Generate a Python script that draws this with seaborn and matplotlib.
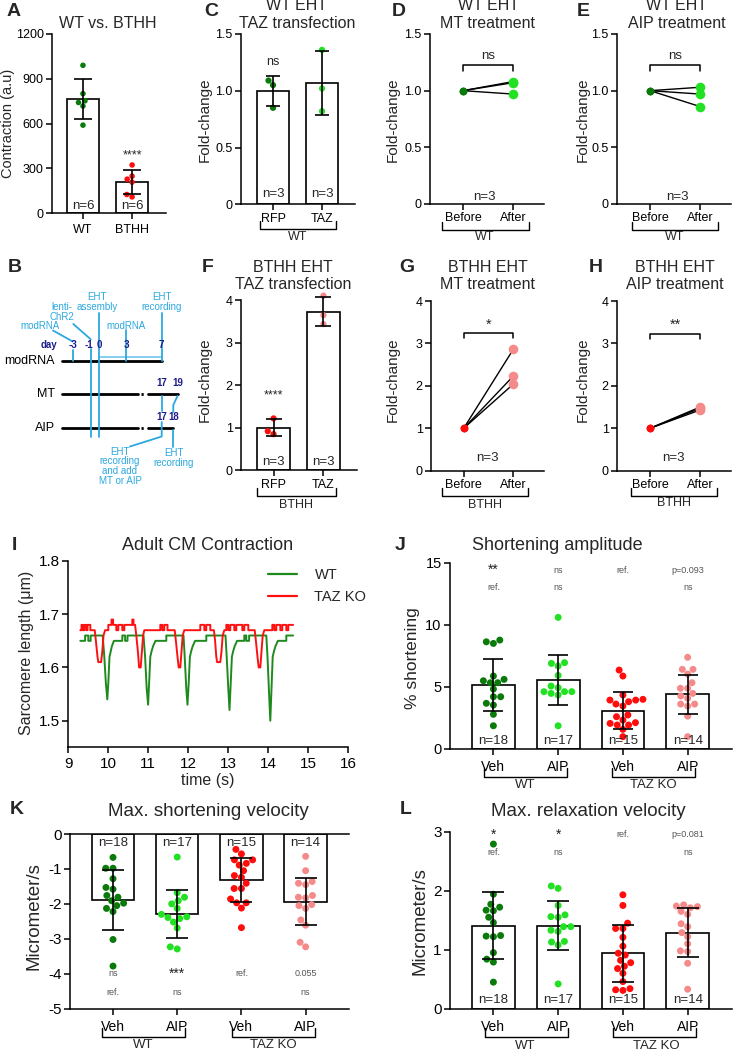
import numpy as np
import pandas as pd
import matplotlib
matplotlib.use('Agg')
import matplotlib.pyplot as plt
from matplotlib.lines import Line2D
import seaborn as sns

# ---------------- data ----------------
# Panel A
a_groups = ['WT', 'BTHH']
a_wt = [990, 800, 752, 741, 717, 589]
a_bthh = [322, 247, 227, 207, 124, 108]
a_mean = [765, 207]
a_sd = [133, 82]

# Panel C
c_groups = ['RFP', 'TAZ']
c_rfp = [1.09, 1.05, 0.85]
c_taz = [1.36, 1.02, 0.82]
c_mean = [1.00, 1.07]
c_sd = [0.13, 0.28]

# Panel F
f_groups = ['RFP', 'TAZ']
f_rfp = [1.22, 0.92, 0.85]
f_taz = [4.11, 3.65, 3.44]
f_mean = [1.00, 3.73]
f_sd = [0.20, 0.34]

# Paired panels D, E, G, H
pair_labels = ['Before', 'After']
d_before = [1.0, 1.0, 1.0]
d_after = [1.08, 1.07, 0.97]
e_before = [1.0, 1.0, 1.0]
e_after = [1.03, 0.97, 0.86]
g_before = [1.0, 1.0, 1.0]
g_after = [2.86, 2.23, 2.04]
h_before = [1.0, 1.0, 1.0]
h_after = [1.50, 1.47, 1.43]

# Panel I traces (time s, sarcomere length um)
wt_t = [9.30, 9.42, 9.42, 9.50, 9.50, 9.56, 9.56, 9.86, 9.90, 9.94, 9.975, 10.00, 10.03, 10.06, 10.09,
        10.14, 10.35, 10.35, 10.42, 10.42, 10.48, 10.48, 10.88, 10.92, 10.96, 10.995, 11.02, 11.05,
        11.08, 11.12, 11.18, 11.45, 11.45, 11.88, 11.91, 11.95, 11.98, 12.01, 12.04, 12.07, 12.11,
        12.17, 12.45, 12.45, 12.93, 12.96, 13.00, 13.03, 13.06, 13.09, 13.12, 13.16, 13.22, 13.40,
        13.40, 13.45, 13.45, 13.52, 13.52, 13.95, 13.98, 14.02, 14.05, 14.08, 14.11, 14.14, 14.18,
        14.24, 14.45, 14.45, 14.62]
wt_v = [1.65, 1.65, 1.66, 1.66, 1.65, 1.65, 1.66, 1.66, 1.62, 1.57, 1.54, 1.57, 1.62, 1.63, 1.64,
        1.65, 1.65, 1.66, 1.66, 1.65, 1.65, 1.66, 1.66, 1.62, 1.56, 1.53, 1.57, 1.62,
        1.63, 1.64, 1.65, 1.65, 1.66, 1.66, 1.62, 1.56, 1.53, 1.57, 1.62, 1.63, 1.64,
        1.65, 1.65, 1.66, 1.66, 1.62, 1.56, 1.52, 1.57, 1.62, 1.63, 1.64, 1.65, 1.65,
        1.66, 1.66, 1.65, 1.65, 1.66, 1.66, 1.62, 1.55, 1.50, 1.56, 1.62, 1.63, 1.64,
        1.65, 1.65, 1.66, 1.66]
taz_t = [9.30, 9.33, 9.33, 9.36, 9.36, 9.40, 9.40, 9.45, 9.45, 9.48, 9.48, 9.55, 9.55, 9.66, 9.69,
         9.73, 9.75, 9.82, 9.85, 9.88, 9.92, 10.00, 10.00, 10.08, 10.08, 10.12, 10.12, 10.20, 10.20,
         10.25, 10.25, 10.35, 10.35, 10.40, 10.40, 10.60, 10.60, 10.63, 10.63, 10.67, 10.70, 10.74,
         10.77, 10.81, 10.84, 10.87, 10.90, 11.30, 11.30, 11.35, 11.35, 11.40, 11.40, 11.48, 11.48,
         11.66, 11.69, 11.73, 11.76, 11.80, 11.83, 11.86, 11.90, 12.30, 12.30, 12.40, 12.40, 12.45,
         12.45, 12.55, 12.55, 12.64, 12.67, 12.70, 12.72, 12.80, 12.83, 12.86, 12.90, 12.95, 12.95,
         13.00, 13.00, 13.05, 13.05, 13.15, 13.15, 13.20, 13.20, 13.35, 13.35, 13.40, 13.40, 13.50,
         13.50, 13.66, 13.69, 13.73, 13.76, 13.80, 13.83, 13.86, 13.90, 14.10, 14.10, 14.15, 14.15,
         14.20, 14.20, 14.30, 14.30, 14.35, 14.35, 14.45, 14.45, 14.50, 14.50, 14.62]
taz_v = [1.67, 1.67, 1.68, 1.68, 1.67, 1.67, 1.68, 1.68, 1.67, 1.67, 1.68, 1.68, 1.67, 1.67, 1.65,
         1.62, 1.61, 1.61, 1.63, 1.66, 1.67, 1.67, 1.68, 1.68, 1.69, 1.69, 1.68, 1.68, 1.67,
         1.67, 1.68, 1.68, 1.67, 1.67, 1.68, 1.68, 1.69, 1.69, 1.68, 1.68, 1.66, 1.63,
         1.60, 1.60, 1.63, 1.66, 1.67, 1.67, 1.68, 1.68, 1.67, 1.67, 1.68, 1.68, 1.67,
         1.67, 1.65, 1.62, 1.60, 1.60, 1.63, 1.66, 1.67, 1.67, 1.68, 1.68, 1.67, 1.67,
         1.68, 1.68, 1.67, 1.67, 1.65, 1.62, 1.61, 1.61, 1.63, 1.66, 1.67, 1.67, 1.68,
         1.68, 1.67, 1.67, 1.68, 1.68, 1.67, 1.67, 1.68, 1.68, 1.67, 1.67, 1.68, 1.68,
         1.67, 1.67, 1.65, 1.62, 1.60, 1.60, 1.63, 1.66, 1.67, 1.67, 1.68, 1.68, 1.67,
         1.67, 1.68, 1.68, 1.67, 1.67, 1.68, 1.68, 1.67, 1.67, 1.68, 1.68]

# Panels J, K, L
jkl_groups = ['WT Veh', 'WT AIP', 'TAZ KO Veh', 'TAZ KO AIP']
jkl_ticklabels = ['Veh', 'AIP', 'Veh', 'AIP']
jkl_n = ['n=18', 'n=17', 'n=15', 'n=14']

j_wt_veh = [8.76, 8.62, 8.49, 5.86, 5.59, 5.48, 5.32, 5.32, 4.81, 4.19, 4.19, 3.66, 3.52, 2.77, 1.85]
j_wt_aip = [10.59, 6.94, 6.88, 6.67, 5.91, 5.05, 4.92, 4.60, 4.60, 4.60, 4.46, 4.33, 1.85]
j_taz_veh = [6.34, 5.86, 4.33, 3.98, 3.92, 3.92, 3.79, 3.60, 3.44, 2.72, 2.58, 2.31, 2.10, 2.04,
             1.91, 1.91, 1.56, 0.97]
j_taz_aip = [7.37, 6.40, 6.40, 6.02, 5.32, 4.87, 4.87, 4.46, 4.25, 4.06, 3.60, 3.60, 3.44, 2.63, 0.97]
j_mean = [5.13, 5.54, 3.06, 4.38]
j_sd = [2.10, 2.00, 1.48, 1.56]
j_row1 = ['**', 'ns', 'ref.', 'p=0.093']
j_row2 = ['ref.', 'ns', '', 'ns']

k_wt_veh = [-0.67, -0.98, -0.98, -1.28, -1.53, -1.58, -1.76, -1.81, -1.91, -1.98, -2.05, -2.13,
            -2.22, -3.02, -3.78]
k_wt_aip = [-0.66, -1.68, -1.81, -1.91, -2.00, -2.13, -2.30, -2.37, -2.39, -2.42, -2.52, -2.69,
            -3.23, -3.29]
k_taz_veh = [-0.44, -0.57, -0.74, -0.74, -0.84, -0.89, -1.05, -1.19, -1.24, -1.41, -1.56, -1.56,
             -1.86, -1.97, -1.97, -2.12, -2.68]
k_taz_aip = [-0.64, -1.05, -1.36, -1.41, -1.45, -1.76, -1.81, -1.83, -2.02, -2.05, -2.13, -2.46,
             -2.61, -3.10, -3.23]
k_mean = [-1.89, -2.29, -1.32, -1.94]
k_sd = [0.86, 0.70, 0.62, 0.67]
k_row1 = ['ns', '***', 'ref.', '0.055']
k_row2 = ['ref.', 'ns', '', 'ns']

l_wt_veh = [2.79, 1.94, 1.77, 1.72, 1.67, 1.66, 1.55, 1.46, 1.24, 1.23, 1.22, 0.95, 0.84, 0.79, 0.45]
l_wt_aip = [2.08, 2.04, 1.75, 1.59, 1.56, 1.55, 1.39, 1.39, 1.33, 1.31, 1.14, 1.13, 1.08, 0.42]
l_taz_veh = [1.93, 1.75, 1.45, 1.36, 1.36, 1.21, 1.06, 0.94, 0.91, 0.82, 0.78, 0.72, 0.68, 0.60,
             0.46, 0.34, 0.32, 0.31]
l_taz_aip = [1.76, 1.74, 1.73, 1.71, 1.65, 1.60, 1.44, 1.39, 1.29, 1.22, 1.10, 0.98, 0.97, 0.77, 0.33]
l_mean = [1.41, 1.41, 0.94, 1.29]
l_sd = [0.57, 0.42, 0.48, 0.41]
l_row1 = ['*', '*', 'ref.', 'p=0.081']
l_row2 = ['ref.', 'ns', '', 'ns']

# ---------------- style ----------------
DKGREEN = '#0a7a0a'
LTGREEN = '#22e022'
RED = '#ff0d0d'
PINK = '#f58a8a'
BLUE = '#2aa8e0'
NAVY = '#1c1c8c'
jkl_colors = [DKGREEN, LTGREEN, RED, PINK]

sns.set_style('ticks')
plt.rcParams['font.family'] = ['Liberation Sans', 'DejaVu Sans']
plt.rcParams['axes.edgecolor'] = 'black'
plt.rcParams['axes.unicode_minus'] = False

W, H = 733, 1050
fig = plt.figure(figsize=(W / 100, H / 100), dpi=100)


def fx(x):
    return x / W


def fy(y):
    return 1 - y / H


def add_ax(l, t, r, b):
    return fig.add_axes([l / W, 1 - b / H, (r - l) / W, (b - t) / H])


def ftext(x, y, s, size=9, ha='center', va='center', **kw):
    fig.text(fx(x), fy(y), s, fontsize=size, ha=ha, va=va, **kw)


def fline(xs, ys, color='black', lw=1.0):
    fig.add_artist(Line2D([fx(x) for x in xs], [fy(y) for y in ys], color=color, lw=lw))


def bracket(x0, x1, ytop, ybot, lw=1.0):
    fline([x0, x0, x1, x1], [ytop, ybot, ybot, ytop], lw=lw)


def style(ax, lw=1.1, tick_size=9, ticklen=4):
    sns.despine(ax=ax)
    for s in ax.spines.values():
        s.set_linewidth(lw)
    ax.tick_params(width=lw, length=ticklen, labelsize=tick_size, color='black', labelcolor='black',
                   pad=2)
    ax.set_xlabel('')
    ax.set_ylabel('')


def bar_swarm(ax, groups, point_lists, means, sds, colors, size, capsize, bar_w, lw=1.2):
    df = pd.DataFrame({'group': np.repeat(groups, [len(p) for p in point_lists]),
                       'val': np.concatenate(point_lists)})
    sns.barplot(x=groups, y=means, order=groups, color='white', edgecolor='black', linewidth=lw,
                width=bar_w, saturation=1, errorbar=None, ax=ax, zorder=1)
    sns.swarmplot(data=df, x='group', y='val', order=groups, hue='group', hue_order=groups,
                  palette=dict(zip(groups, colors)), size=size, legend=False, ax=ax, zorder=3,
                  linewidth=0, clip_on=False)
    ax.errorbar(range(len(groups)), means, yerr=sds, fmt='none', ecolor='black', elinewidth=lw,
                capsize=capsize, capthick=lw, zorder=5, clip_on=False)


def paired(ax, before, after, cb, ca):
    rep = list(range(len(before)))
    df = pd.DataFrame({'x': [0] * len(before) + [1] * len(after), 'v': before + after,
                       'rep': rep + rep})
    sns.lineplot(data=df, x='x', y='v', units='rep', estimator=None, color='black', lw=1.0,
                 ax=ax, zorder=2)
    sns.scatterplot(x=[0] * len(before), y=before, color=cb, s=30, linewidth=0, ax=ax, zorder=3)
    sns.scatterplot(x=[1] * len(after), y=after, color=ca, s=48, linewidth=0, ax=ax, zorder=3)


# ---------------- panel letters ----------------
for letter, (x, y) in {'A': (14, 11), 'C': (211, 11), 'D': (399, 11), 'E': (583, 11),
                       'B': (15, 268), 'F': (208, 268), 'G': (407, 268), 'H': (596, 268),
                       'I': (14, 545), 'J': (400, 545), 'K': (17, 810), 'L': (406, 810)}.items():
    ftext(x, y, letter, size=14, weight='bold')

# ---------------- Panel A ----------------
ax = add_ax(52, 34, 166, 213)
bar_swarm(ax, a_groups, [a_wt, a_bthh], a_mean, a_sd, [DKGREEN, RED], 4.0, 6.5, 0.65)
style(ax)
ax.tick_params(axis='x', pad=4)
ax.set_ylim(0, 1200)
ax.set_yticks([0, 300, 600, 900, 1200])
ax.set_xlim(-0.63, 1.69)
ax.text(1, 383, '****', ha='center', va='center', fontsize=9)
for i in range(2):
    ax.text(i, 45, 'n=6', ha='center', va='center', fontsize=9.5)
ftext(108, 23, 'WT vs. BTHH', size=11.5)
ftext(8, 123, 'Contraction (a.u)', size=10.5, rotation=90)


# ---------------- Panel C & F ----------------
def fold_bar(top, bottom, left, right, pts, means, sds, colors, ylim, yticks, ylabels, sig, sig_y,
             sig_x, n_y, capsize):
    ax = add_ax(left, top, right, bottom)
    bar_swarm(ax, c_groups, pts, means, sds, colors, 4.5, capsize, 0.655)
    style(ax)
    ax.set_ylim(*ylim)
    ax.set_yticks(yticks)
    ax.set_yticklabels(ylabels)
    ax.set_xlim(-0.653, 1.673)
    ax.text(sig_x, sig_y, sig, ha='center', va='center', fontsize=9)
    for i in range(2):
        ax.text(i, n_y, 'n=3', ha='center', va='center', fontsize=9.5)
    return ax


fold_bar(34, 204.3, 241, 355, [c_rfp, c_taz], c_mean, c_sd, [DKGREEN, LTGREEN], (0, 1.5),
         [0, 0.5, 1.0, 1.5], ['0', '0.5', '1.0', '1.5'], 'ns', 1.25, 0, 0.09, 5)
ftext(297, 5.5, 'WT EHT', size=11.5)
ftext(297, 23, 'TAZ transfection', size=11.5)
ftext(205, 120, 'Fold-change', size=11, rotation=90)
bracket(260, 336, 221, 229)
ftext(298, 237.5, 'WT', size=9)

fold_bar(300.3, 470.3, 241, 357, [f_rfp, f_taz], f_mean, f_sd, [RED, PINK], (0, 4),
         [0, 1, 2, 3, 4], ['0', '1', '2', '3', '4'], '****', 1.75, 0, 0.19, 6)
ftext(293, 268, 'BTHH EHT', size=11.5)
ftext(293, 285, 'TAZ transfection', size=11.5)
ftext(205, 380, 'Fold-change', size=11, rotation=90)
bracket(257, 336, 488, 496)
ftext(296, 505, 'BTHH', size=9)


# ---------------- paired panels ----------------
def paired_panel(left, top, right, bottom, before, after, cb, ca, ylim, yticks, ylabels,
                 br_lo, br_hi, sig, sig_y, n_x, n_y):
    ax = add_ax(left, top, right, bottom)
    paired(ax, before, after, cb, ca)
    style(ax)
    ax.set_ylim(*ylim)
    ax.set_yticks(yticks)
    ax.set_yticklabels(ylabels)
    ax.set_xlim(-0.66, 1.62)
    ax.set_xticks([0, 1])
    ax.set_xticklabels(pair_labels)
    ax.plot([0, 0, 1, 1], [br_lo, br_hi, br_hi, br_lo], color='black', lw=1.1)
    ax.text(0.5, sig_y, sig, ha='center', va='center', fontsize=9.5 if sig == 'ns' else 10.5)
    ax.text(n_x, n_y, 'n=3', ha='center', va='center', fontsize=9.5)
    return ax


paired_panel(430, 34, 544, 204, d_before, d_after, DKGREEN, LTGREEN, (0, 1.5),
             [0, 0.5, 1.0, 1.5], ['0', '0.5', '1.0', '1.5'], 1.17, 1.225, 'ns', 1.31, 0.42, 0.064)
ftext(488, 5.5, 'WT EHT', size=11.5)
ftext(488, 23, 'MT treatment', size=11.5)
ftext(393, 120, 'Fold-change', size=11, rotation=90)
bracket(442, 529, 222, 230)
ftext(485, 237.5, 'WT', size=9)

paired_panel(617, 34, 731, 204, e_before, e_after, DKGREEN, LTGREEN, (0, 1.5),
             [0, 0.5, 1.0, 1.5], ['0', '0.5', '1.0', '1.5'], 1.17, 1.225, 'ns', 1.31, 0.55, 0.064)
ftext(677, 5.5, 'WT EHT', size=11.5)
ftext(677, 23, 'AIP treatment', size=11.5)
ftext(583, 120, 'Fold-change', size=11, rotation=90)
bracket(632, 718, 222, 230)
ftext(675, 237.5, 'WT', size=9)

paired_panel(431, 301, 544, 470.7, g_before, g_after, RED, PINK, (0, 4),
             [0, 1, 2, 3, 4], ['0', '1', '2', '3', '4'], 3.12, 3.25, '*', 3.45, 0.47, 0.29)
ftext(488, 268, 'BTHH EHT', size=11.5)
ftext(488, 285, 'MT treatment', size=11.5)
ftext(393, 380, 'Fold-change', size=11, rotation=90)
bracket(442, 528, 488, 496)
ftext(485, 505, 'BTHH', size=9)

paired_panel(617, 301, 731, 470.7, h_before, h_after, RED, PINK, (0, 4),
             [0, 1, 2, 3, 4], ['0', '1', '2', '3', '4'], 3.1, 3.22, '**', 3.45, 0.46, 0.29)
ftext(675, 268, 'BTHH EHT', size=11.5)
ftext(675, 285, 'AIP treatment', size=11.5)
ftext(583, 380, 'Fold-change', size=11, rotation=90)
bracket(631, 717, 488, 496)
ftext(674, 503, 'BTHH', size=9)

# ---------------- Panel B (timeline diagram) ----------------
axb = fig.add_axes([0, fy(490), 185 / W, 205 / H])
axb.set_xlim(0, 185)
axb.set_ylim(490, 285)
axb.axis('off')
blw = 1.3
# black rows
axb.plot([62, 162], [361, 361], color='black', lw=2.0)
for yy, xe in [(394, 178), (428, 173)]:
    axb.plot([62, 138], [yy, yy], color='black', lw=2.0)
    axb.plot([141, 144], [yy, yy], color='black', lw=2.0, ls=(0, (0.8, 0.8)))
    axb.plot([148, xe], [yy, yy], color='black', lw=2.0)
# blue lines
axb.plot([90.7, 90.7], [349, 436.5], color=BLUE, lw=blw)
axb.plot([99, 99], [313, 436.5], color=BLUE, lw=blw)
axb.plot([72.7, 72.7], [350, 361], color=BLUE, lw=blw)
axb.plot([126, 126], [330, 361], color=BLUE, lw=blw)
axb.plot([161.7, 161.7], [313, 361], color=BLUE, lw=blw)
axb.plot([99, 161.7], [356.5, 356.5], color=BLUE, lw=blw, alpha=0.6)
axb.plot([53, 72.7], [330.5, 341.5], color=BLUE, lw=blw)
axb.plot([73.3, 90.7], [324, 339.3], color=BLUE, lw=blw)
axb.plot([161.7, 161.7], [396, 411], color=BLUE, lw=blw)
axb.plot([161.7, 161.7, 130], [422, 436.5, 446.5], color=BLUE, lw=blw)
axb.plot([177.5, 173.3, 173.3], [396, 405, 412], color=BLUE, lw=blw)
axb.plot([173.3, 173.3], [430, 446.5], color=BLUE, lw=blw)
# blue texts
bt = dict(color=BLUE, fontsize=7, ha='center', va='center')
axb.text(97, 296.5, 'EHT', **bt)
axb.text(97, 307, 'assembly', **bt)
axb.text(61.7, 307, 'lenti-', **bt)
axb.text(61.7, 317, 'ChR2', **bt)
axb.text(161.5, 296.5, 'EHT', **bt)
axb.text(161.5, 307, 'recording', **bt)
axb.text(40, 326, 'modRNA', **bt)
axb.text(126.3, 326, 'modRNA', **bt)
for i, s in enumerate(['EHT', 'recording', 'and add', 'MT or AIP']):
    axb.text(120, 452 + 9.5 * i, s, **bt)
for i, s in enumerate(['EHT', 'recording']):
    axb.text(173.5, 453 + 10 * i, s, **bt)
# navy day labels
nt = dict(color=NAVY, fontsize=7, ha='center', va='center', weight='bold')
axb.text(49, 345, 'day', **nt)
for xx, s in [(72.7, '-3'), (89, '-1'), (99.5, '0'), (126, '3'), (161.7, '7')]:
    axb.text(xx, 345, s, **nt)
axb.text(161.7, 383.3, '17', **nt)
axb.text(178.3, 383.3, '19', **nt)
axb.text(161.7, 417.3, '17', **nt)
axb.text(174, 417.3, '18', **nt)
# row labels
for yy, s in [(361, 'modRNA'), (394, 'MT'), (428, 'AIP')]:
    axb.text(55, yy, s, fontsize=9, ha='right', va='center', color='black')

# ---------------- Panel I ----------------
axI = add_ax(68.3, 561, 348.3, 747.3)
dfI = pd.DataFrame({'t': wt_t + taz_t, 'v': wt_v + taz_v,
                    'geno': ['WT'] * len(wt_t) + ['TAZ KO'] * len(taz_t)})
sns.lineplot(data=dfI, x='t', y='v', hue='geno', hue_order=['WT', 'TAZ KO'],
             palette={'WT': '#1e8a1e', 'TAZ KO': '#ff1010'}, estimator=None, sort=False, lw=1.4,
             ax=axI)
style(axI, tick_size=11, ticklen=4)
axI.tick_params(axis='x', pad=3)
axI.set_xlim(9, 16)
axI.set_ylim(1.45, 1.8)
axI.set_xticks(range(9, 17))
axI.set_yticks([1.5, 1.6, 1.7, 1.8])
axI.set_yticklabels(['1.5', '1.6', '1.7', '1.8'])
handles, labels = axI.get_legend_handles_labels()
for hdl in handles:
    hdl.set_linewidth(1.6)
axI.legend(handles, labels, loc='upper left', bbox_to_anchor=(fx(262), fy(562)),
           bbox_transform=fig.transFigure, frameon=False, fontsize=10.5, handlelength=2.0,
           handletextpad=1.2, labelspacing=0.55, borderaxespad=0)
ftext(208, 546, 'Adult CM Contraction', size=13)
ftext(208, 780, 'time (s)', size=11.5)
ftext(27, 653, 'Sarcomere length (\u03bcm)', size=11.5, rotation=90)


# ---------------- Panels J, K, L ----------------
def jkl_panel(left, top, right, bottom, pts, means, sds, ylim, yticks, row1, row1_y, row2, row2_y,
              n_y, capsize, neg=False, tick_size=11):
    ax = add_ax(left, top, right, bottom)
    bar_swarm(ax, jkl_groups, pts, means, sds, jkl_colors, 5.0, capsize, 0.66)
    style(ax, tick_size=tick_size, ticklen=4)
    ax.tick_params(axis='x', pad=4)
    ax.set_ylim(*ylim)
    ax.set_yticks(yticks)
    ax.set_xlim(-0.67, 3.68)
    ax.set_xticks(range(4))
    ax.set_xticklabels(jkl_ticklabels, fontsize=10)
    if neg:
        ax.spines['top'].set_visible(True)
        ax.spines['top'].set_linewidth(1.1)
        ax.tick_params(top=False)
    for i in range(4):
        for txt, yy in [(row1[i], row1_y), (row2[i], row2_y)]:
            if not txt:
                continue
            star = txt.startswith('*')
            ax.text(i, yy, txt, ha='center', va='center',
                    fontsize=10 if star else 6.5, color='#222222' if star else '#555555')
        ax.text(i, n_y, jkl_n[i], ha='center', va='center', fontsize=9.5)
    return ax


jkl_panel(450, 562.7, 731.7, 748.7, [j_wt_veh, j_wt_aip, j_taz_veh, j_taz_aip], j_mean, j_sd,
          (0, 15), [0, 5, 10, 15], j_row1, 14.4, j_row2, 13.0, 0.6, 7.4, tick_size=10.5)
ftext(557, 545, 'Shortening amplitude', size=13)
ftext(412, 658, '% shortening', size=12.5, rotation=90)
bracket(484, 567, 768, 777)
bracket(612, 695, 768, 777)
ftext(525, 785.5, 'WT', size=9.5)
ftext(653, 785.5, 'TAZ KO', size=9.5)

jkl_panel(70, 834, 349.3, 1008.7, [k_wt_veh, k_wt_aip, k_taz_veh, k_taz_aip], k_mean, k_sd,
          (-5, 0), [0, -1, -2, -3, -4, -5], k_row1, -4.0, k_row2, -4.55, -0.27, 7.8, neg=True)
ftext(208, 811, 'Max. shortening velocity', size=13.5)
ftext(34, 916, 'Micrometer/s', size=13.5, rotation=90)
bracket(101.7, 185, 1028, 1036.7)
bracket(231.7, 315, 1028, 1036.7)
ftext(143, 1045.5, 'WT', size=9.5)
ftext(273, 1045.5, 'TAZ KO', size=9.5)

jkl_panel(450, 831.7, 731.7, 1008.7, [l_wt_veh, l_wt_aip, l_taz_veh, l_taz_aip], l_mean, l_sd,
          (0, 3), [0, 1, 2, 3], l_row1, 2.95, l_row2, 2.64, 0.14, 8.0)
ftext(588, 812, 'Max. relaxation velocity', size=13.5)
ftext(420, 921, 'Micrometer/s', size=13.5, rotation=90)
bracket(485, 568, 1028, 1037.3)
bracket(613, 696, 1028, 1037.3)
ftext(525, 1046, 'WT', size=9.5)
ftext(656, 1046, 'TAZ KO', size=9.5)

fig.savefig('out.png', dpi=100)
